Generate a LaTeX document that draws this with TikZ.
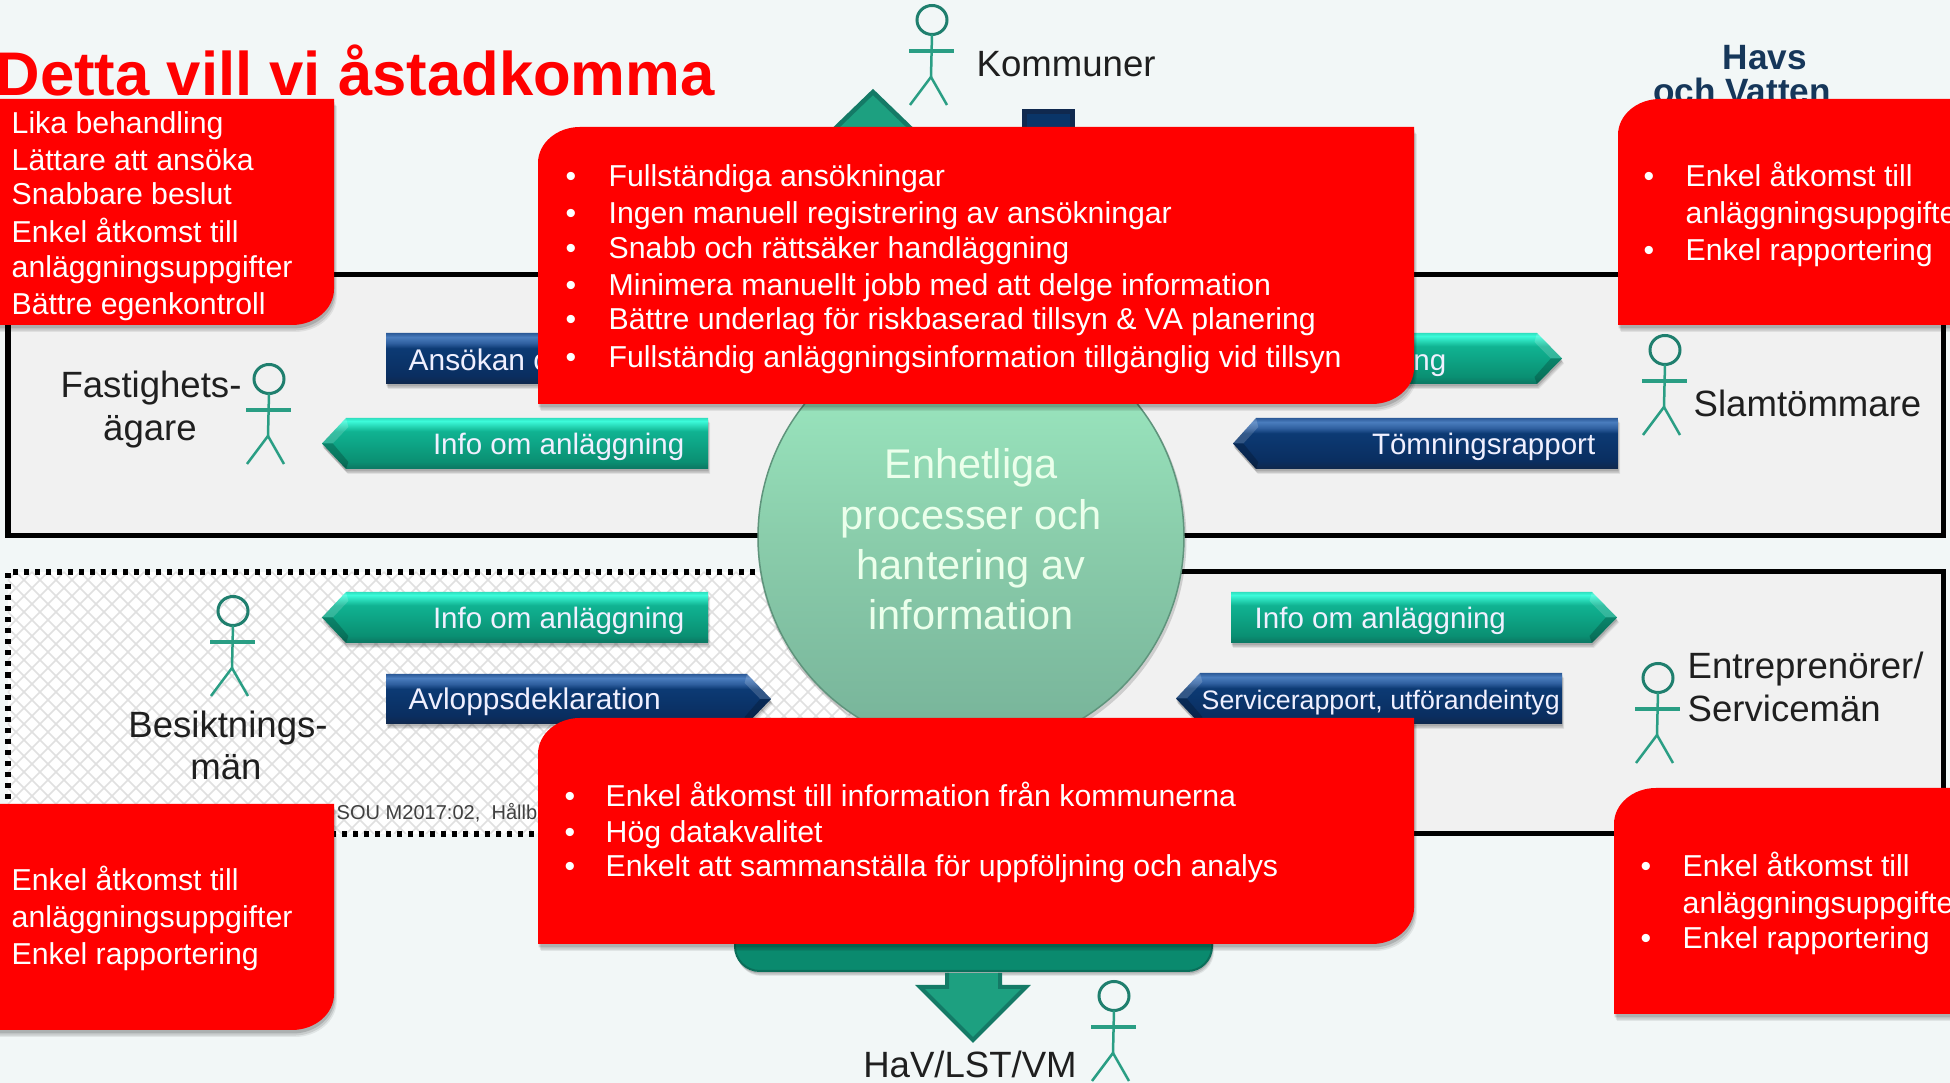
\documentclass[tikz,border=0pt]{standalone}
\usepackage{fontspec}
\setmainfont{Liberation Sans}
\definecolor{bgc}{HTML}{F2F7F7}
\definecolor{panelc}{HTML}{F1F1F1}
\definecolor{stickc}{HTML}{2A9E84}
\definecolor{stickd}{HTML}{1F7F6E}
\definecolor{tealf}{HTML}{1DA080}
\definecolor{teald}{HTML}{147A66}
\definecolor{barc}{HTML}{0A8A6E}
\definecolor{bard}{HTML}{0A6F5A}
\definecolor{navyf}{HTML}{0A3568}
\definecolor{navyd}{HTML}{10294F}
\definecolor{logoc}{HTML}{16375A}
\definecolor{latc}{HTML}{E0E0E0}
\definecolor{circedge}{HTML}{5F947C}
\definecolor{ga}{HTML}{0B7863}
\definecolor{gb}{HTML}{0B7F68}
\definecolor{gc}{HTML}{0A8F72}
\definecolor{gd}{HTML}{10B392}
\definecolor{ge}{HTML}{22D0AE}
\definecolor{gf}{HTML}{3CFBDA}
\definecolor{gg}{HTML}{30E0C0}
\definecolor{ba}{HTML}{10284C}
\definecolor{bb}{HTML}{0D2B56}
\definecolor{bc}{HTML}{0A2E60}
\definecolor{bd}{HTML}{0C3A74}
\definecolor{be}{HTML}{2F5F9F}
\definecolor{bf}{HTML}{4A7DBE}
\definecolor{bg}{HTML}{2C5A98}
\definecolor{ca}{HTML}{74B297}
\definecolor{cb}{HTML}{7AB79C}
\definecolor{cc}{HTML}{8ACDAB}
\definecolor{cd}{HTML}{98E3BC}
\definecolor{ce}{HTML}{A5F0C8}
\pgfdeclareverticalshading{greenbev}{100bp}{color(0bp)=(ga);color(25bp)=(ga);color(28bp)=(gb);color(32bp)=(gc);color(62bp)=(gd);color(66bp)=(ge);color(72bp)=(gf);color(75bp)=(gg);color(100bp)=(gg)}
\pgfdeclareverticalshading{bluebev}{100bp}{color(0bp)=(ba);color(25bp)=(ba);color(29bp)=(bb);color(33bp)=(bc);color(60bp)=(bd);color(65bp)=(be);color(71bp)=(bf);color(75bp)=(bg);color(100bp)=(bg)}
\pgfdeclareverticalshading{circshade}{100bp}{color(0bp)=(ca);color(25bp)=(ca);color(30bp)=(cb);color(50bp)=(cc);color(66bp)=(cd);color(75bp)=(ce);color(100bp)=(ce)}
\def\pxu{0.2845pt}
\tikzset{
  softshadow/.style={
    preaction={fill=black,fill opacity=.07,transform canvas={shift={(#1*.4,#1)}}},
    preaction={fill=black,fill opacity=.10,transform canvas={shift={(#1*.25,#1*.8)}}},
    preaction={fill=black,fill opacity=.14,transform canvas={shift={(#1*.1,#1*.5)}}}},
  redbox/.style={fill=red,softshadow=7},
  body/.style={font=\fontsize{8.6}{10}\selectfont,text=white,anchor=base west,inner sep=0pt},
  bulletmark/.style={font=\fontsize{8.6}{10}\selectfont,text=white,anchor=base,inner sep=0pt},
  actor/.style={font=\fontsize{10.4}{12}\selectfont,text=black!88,anchor=base west,inner sep=0pt},
  actorc/.style={font=\fontsize{10.4}{12}\selectfont,text=black!88,anchor=base,inner sep=0pt},
  arrowtext/.style={font=\fontsize{8.4}{10}\selectfont,text=white!94!blue,inner sep=0pt},
  circtext/.style={font=\fontsize{11.8}{14}\selectfont,text=white!92!green,anchor=base,inner sep=0pt},
  frameline/.style={line width=5*\pxu,black},
  stick/.pic={
    \draw[line width=3*\pxu,stickd] (0,0) ellipse [x radius=15,y radius=14.5];
    \draw[line width=2.5*\pxu,stickc] (0,14.5) -- (-1,57);
    \draw[line width=3.2*\pxu,stickc] (-23,31) -- (22,31);
    \draw[line width=2.5*\pxu,stickc] (-22,85) -- (-1,57) -- (15,85);
  }
}
\def\PTL#1#2{(#1,#2+36) .. controls (#1,#2+16) and (#1+19,#2) .. (#1+42,#2)}
\def\PBR#1#2{(#1,#2-36) .. controls (#1,#2-16) and (#1-19,#2) .. (#1-42,#2)}
% shading, tip x, shoulder x, flat-end x, top, bottom
\newcommand{\BevelArrow}[6]{%
  \path[shading=#1,softshadow=5] (#3,#5) -- (#2,{(#5+#6)/2}) -- (#3,#6) -- (#4,#6) -- (#4,#5) -- cycle;
  \fill[white,fill opacity=.16] (#3,#5) -- (#2,{(#5+#6)/2}) -- ({#2+(#3-#2)*.45},{(#5+#6)/2}) -- ({#3+(#3-#2)*.1},#5+9) -- cycle;
  \fill[black,fill opacity=.2] (#3,#6) -- (#2,{(#5+#6)/2}) -- ({#2+(#3-#2)*.45},{(#5+#6)/2}) -- ({#3+(#3-#2)*.1},#6-7) -- cycle;
}
\begin{document}
\begin{tikzpicture}[x=0.01cm,y=-0.01cm]
\clip (0,0) rectangle (1950,1083);
\fill[bgc] (0,0) rectangle (1950,1083);

% upper panel
\draw[frameline,fill=panelc] (8,275) rectangle (1943,536);

% lower panel: right solid, left dotted with lattice
\fill[panelc] (975,572) rectangle (1943,834);
\begin{scope}
  \clip (8,572) rectangle (975,834);
  \fill[white] (8,572) rectangle (975,834);
  \foreach \k in {-18,...,80}{
    \draw[latc,line width=1.6*\pxu] (\k*16,572) -- (\k*16+262,834);
    \draw[latc,line width=1.6*\pxu] (\k*16,572) -- (\k*16-262,834);
  }
\end{scope}
\draw[line width=5.5*\pxu,black,dash pattern=on 5*\pxu off 6*\pxu] (975,572) -- (8,572) -- (8,834) -- (975,834);
\draw[frameline] (975,572) -- (1943,572) -- (1943,834) -- (975,834);

% source text
\node[inner sep=0pt,anchor=base west,font=\fontsize{5.7}{7}\selectfont,text=black!75] (source) at (336,820) {SOU M2017:02,\ \ Hållb};

% up and down arrows behind the centre
\draw[teald,line width=4.5*\pxu,fill=tealf] (873,92) -- (931,148) -- (815,148) -- cycle;
\draw[navyd,line width=5*\pxu,fill=navyf] (1024,112) rectangle (1072,150);
\draw[bard,line width=2*\pxu,fill=barc,rounded corners=7pt,softshadow=5] (735,880) rectangle (1212,971);
\draw[teald,line width=4*\pxu,fill=tealf] (947,973) -- (947,987) -- (920,987) -- (973,1040) -- (1026,987) -- (1000,987) -- (1000,973);

% arrows
\BevelArrow{bluebev}{772}{772}{386}{333}{384}
\BevelArrow{greenbev}{322}{346}{708}{418}{469}
\BevelArrow{greenbev}{1562}{1537}{1231}{333}{384}
\BevelArrow{bluebev}{1233}{1256}{1618}{418}{469}
\BevelArrow{greenbev}{322}{346}{708}{592}{643}
\BevelArrow{bluebev}{771}{747}{386}{674}{724}
\BevelArrow{greenbev}{1617}{1592}{1231}{592}{643}
\BevelArrow{bluebev}{1176}{1200}{1562}{673}{724}

\node[arrowtext,anchor=base west,font=\fontsize{8.5}{10}\selectfont] (a1) at (408,371) {Ansökan o};
\node[arrowtext,anchor=base east] (a2) at (685,455) {Info om anläggning};
\node[arrowtext,anchor=base east] (a3) at (1447,371) {ng};
\node[arrowtext,anchor=base east] (a4) at (1596,455) {Tömningsrapport};
\node[arrowtext,anchor=base east] (a5) at (685,629) {Info om anläggning};
\node[arrowtext,anchor=base west,font=\fontsize{8.5}{10}\selectfont] (a6) at (408,710) {Avloppsdeklaration};
\node[arrowtext,anchor=base west] (a7) at (1254,629) {Info om anläggning};
\node[arrowtext,anchor=base west,font=\fontsize{7.6}{10}\selectfont] (a8) at (1201,710) {Servicerapport, utförandeintyg};

% central circle
\path[fill=black,fill opacity=.15] (972,540) circle (214.5);
\path[shading=circshade,draw=circedge,line width=1.5*\pxu] (971,537) circle (213);
\node[circtext] (c1) at (971,479) {Enhetliga};
\node[circtext] (c2) at (971,530) {processer och};
\node[circtext] (c3) at (971,580) {hantering av};
\node[circtext] (c4) at (971,630) {information};

% actors
\pic at (932,20) {stick};
\pic at (269,379) {stick};
\pic at (1665,350) {stick};
\pic at (233,611) {stick};
\pic at (1658,678) {stick};
\pic at (1114,996) {stick};
\node[actor] (kom) at (976,77) {Kommuner};
\node[actorc] (fa1) at (151,398) {Fastighets-};
\node[actorc] (fa2) at (150,441) {ägare};
\node[actor] (sla) at (1693,417) {Slamtömmare};
\node[actorc] (be1) at (228,738) {Besiktnings-};
\node[actorc] (be2) at (226,780) {män};
\node[actor] (en1) at (1687,679) {Entreprenörer/};
\node[actor] (en2) at (1687,722) {Servicemän};
\node[actorc] (hav) at (970,1078) {HaV/LST/VM};

% logo
\node[inner sep=0pt,anchor=base,font=\bfseries\fontsize{10}{12}\selectfont,text=logoc] (lg1) at (1765,70) {Havs};
\node[inner sep=0pt,anchor=base,font=\bfseries\fontsize{10}{12}\selectfont,text=logoc] (lg2) at (1742,104) {och Vatten};

% red boxes
\path[redbox] (-20,99) -- (334,99) -- \PBR{334}{325} -- (-20,325) -- cycle;
\path[redbox] \PTL{538}{127} -- (1414,127) -- \PBR{1414}{404} -- (538,404) -- cycle;
\path[redbox] \PTL{1618}{99} -- (1970,99) -- (1970,325) -- (1618,325) -- cycle;
\path[redbox] (-20,804) -- (334,804) -- \PBR{334}{1030} -- (-20,1030) -- cycle;
\path[redbox] \PTL{538}{718} -- (1414,718) -- \PBR{1414}{944} -- (538,944) -- cycle;
\path[redbox] \PTL{1614}{788} -- (1970,788) -- (1970,1014) -- (1614,1014) -- cycle;

% title
\node[inner sep=0pt,anchor=base west,font=\bfseries\fontsize{17.52}{20}\selectfont,text=red] (title) at (-5,96) {Detta vill vi åstadkomma};

% left top
\node[body] (l1) at (11,134) {Lika behandling};
\node[body] (l2) at (11,171) {Lättare att ansöka};
\node[body] (l3) at (11,205) {Snabbare beslut};
\node[body] (l4) at (11,243) {Enkel åtkomst till};
\node[body] (l5) at (11,278) {anläggningsuppgifter};
\node[body] (l6) at (11,315) {Bättre egenkontroll};

% centre top
\foreach \n/\y/\t in {1/187/Fullständiga ansökningar,2/224/Ingen manuell registrering av ansökningar,3/259/Snabb och rättsäker handläggning,4/296/Minimera manuellt jobb med att delge information,5/330/Bättre underlag för riskbaserad tillsyn \& VA planering,6/368/Fullständig anläggningsinformation tillgänglig vid tillsyn}{
  \node[bulletmark] (cb\n) at (571,\y) {•};
  \node[body] (ct\n) at (608,\y) {\t};
}

% right top
\node[bulletmark] (rb1) at (1649,187) {•};
\node[body] (r1) at (1685,187) {Enkel åtkomst till};
\node[body] (r2) at (1685,224) {anläggningsuppgifter};
\node[bulletmark] (rb3) at (1649,261) {•};
\node[body] (r3) at (1685,261) {Enkel rapportering};

% left bottom
\node[body] (m1) at (11,891) {Enkel åtkomst till};
\node[body] (m2) at (11,928) {anläggningsuppgifter};
\node[body] (m3) at (11,965) {Enkel rapportering};

% centre bottom
\foreach \n/\y/\t in {1/807/Enkel åtkomst till information från kommunerna,2/843/Hög datakvalitet,3/877/Enkelt att sammanställa för uppföljning och analys}{
  \node[bulletmark] (db\n) at (570,\y) {•};
  \node[body] (dt\n) at (605,\y) {\t};
}

% right bottom
\node[bulletmark] (sb1) at (1646,877) {•};
\node[body] (s1) at (1682,877) {Enkel åtkomst till};
\node[body] (s2) at (1682,914) {anläggningsuppgifter};
\node[bulletmark] (sb3) at (1646,949) {•};
\node[body] (s3) at (1682,949) {Enkel rapportering};
\end{tikzpicture}
\end{document}
